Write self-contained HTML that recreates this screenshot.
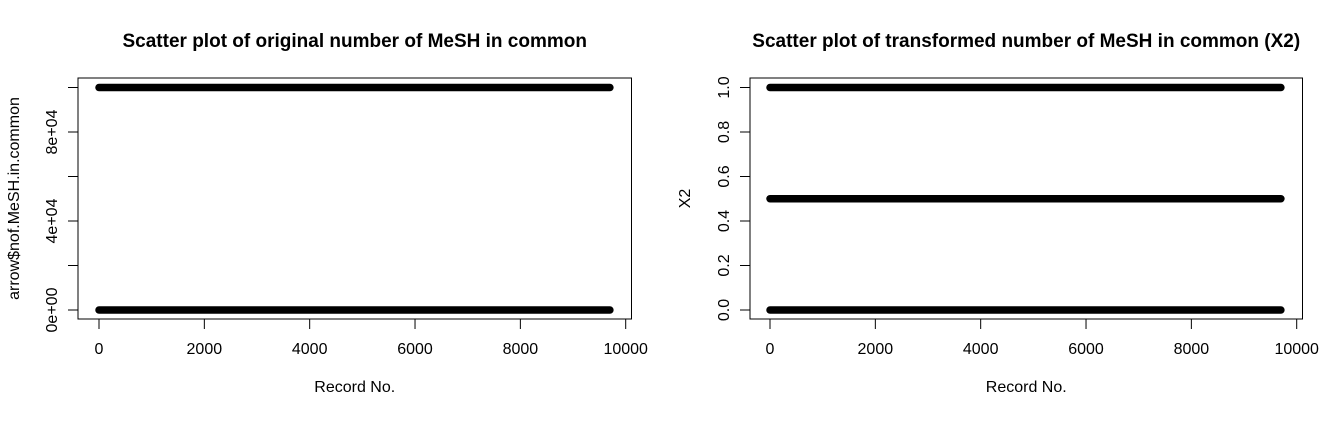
<!DOCTYPE html>
<html><head><meta charset="utf-8"><style>
body{margin:0;background:#fff}
svg text{font-family:"Liberation Sans",Arial,sans-serif;fill:#000}
</style></head><body>
<svg id="c" width="1343" height="417" xmlns="http://www.w3.org/2000/svg"></svg>
<script>
// data: levels and record-number ranges of dense point runs
const leftLevels = [0, 100000];
const leftRanges = [[0, 9700], [0, 9700]];
const rightLevels = [0, 0.5, 1];
const rightRanges = [[0, 9700], [0, 9700], [0, 9700]];
const xTicks = [0, 2000, 4000, 6000, 8000, 10000];
const leftYTicks = [0, 20000, 40000, 60000, 80000, 100000];
const leftYLabels = ["0e+00", "", "4e+04", "", "8e+04", ""];
const rightYTicks = [0, 0.2, 0.4, 0.6, 0.8, 1.0];
const rightYLabels = ["0.0", "0.2", "0.4", "0.6", "0.8", "1.0"];

const svg = document.getElementById('c');
const NS = 'http://www.w3.org/2000/svg';
function mk(t, a, txt){const e=document.createElementNS(NS,t);for(const k in a)e.setAttribute(k,a[k]);if(txt!==undefined)e.textContent=txt;svg.appendChild(e);return e;}

function panel(o){
  const x = v => o.x0 + (v-0)/10000*(o.x1-o.x0);
  const y = v => o.y0 - (v-o.ymin)/(o.ymax-o.ymin)*(o.y0-o.y1);
  let e;
  e=mk('rect',{x:o.bl,y:78,width:o.br-o.bl,height:241,fill:'none',stroke:'#000','stroke-width':1});
  
  
  e=mk('text',{x:(o.bl+o.br)/2,y:47,'text-anchor':'middle','font-size':'19','font-weight':'bold'},o.title);
  
  
  e=mk('text',{x:(o.bl+o.br)/2,y:392,'text-anchor':'middle','font-size':'16'},'Record No.');
  
  
  e=mk('text',{x:0,y:0,'text-anchor':'middle','font-size':'16',transform:`translate(${o.yt},${(78+319)/2}) rotate(-90)`},o.ytitle);
  
  
  mk('line',{x1:x(xTicks[0]),x2:x(xTicks[xTicks.length-1]),y1:319,y2:319,stroke:'#000'});
  xTicks.forEach(t=>{
    mk('line',{x1:x(t),x2:x(t),y1:319,y2:329,stroke:'#000'});
    e=mk('text',{x:x(t),y:354,'text-anchor':'middle','font-size':'16'},String(t));
    
    
  });
  mk('line',{x1:o.bl,x2:o.bl,y1:y(o.yticks[0]),y2:y(o.yticks[o.yticks.length-1]),stroke:'#000'});
  o.yticks.forEach((t,i)=>{
    mk('line',{x1:o.bl-10,x2:o.bl,y1:y(t),y2:y(t),stroke:'#000'});
    if(o.ylabels[i]){
      e=mk('text',{x:0,y:0,'text-anchor':'middle','font-size':'16',transform:`translate(${o.bl-21},${y(t)}) rotate(-90)`},o.ylabels[i]);
      
      
    }
  });
  o.levels.forEach((lv,i)=>{
    const r=o.ranges[i];
    e=mk('line',{x1:x(r[0]),x2:x(r[1]),y1:y(lv),y2:y(lv),stroke:'#000','stroke-width':7.5,'stroke-linecap':'round'});
    
    
  });
}
panel({id:'left',x0:99,x1:625.7,bl:78,br:631.5,y0:310,y1:87.5,ymin:0,ymax:100000,yticks:leftYTicks,ylabels:leftYLabels,levels:leftLevels,ranges:leftRanges,yt:19,ytitle:'arrow$nof.MeSH.in.common',title:'Scatter plot of original number of MeSH in common'});
panel({id:'right',x0:770,x1:1296.7,bl:750,br:1302.5,y0:310,y1:87.5,ymin:0,ymax:1,yticks:rightYTicks,ylabels:rightYLabels,levels:rightLevels,ranges:rightRanges,yt:690,ytitle:'X2',title:'Scatter plot of transformed number of MeSH in common (X2)'});
</script>
</body></html>
